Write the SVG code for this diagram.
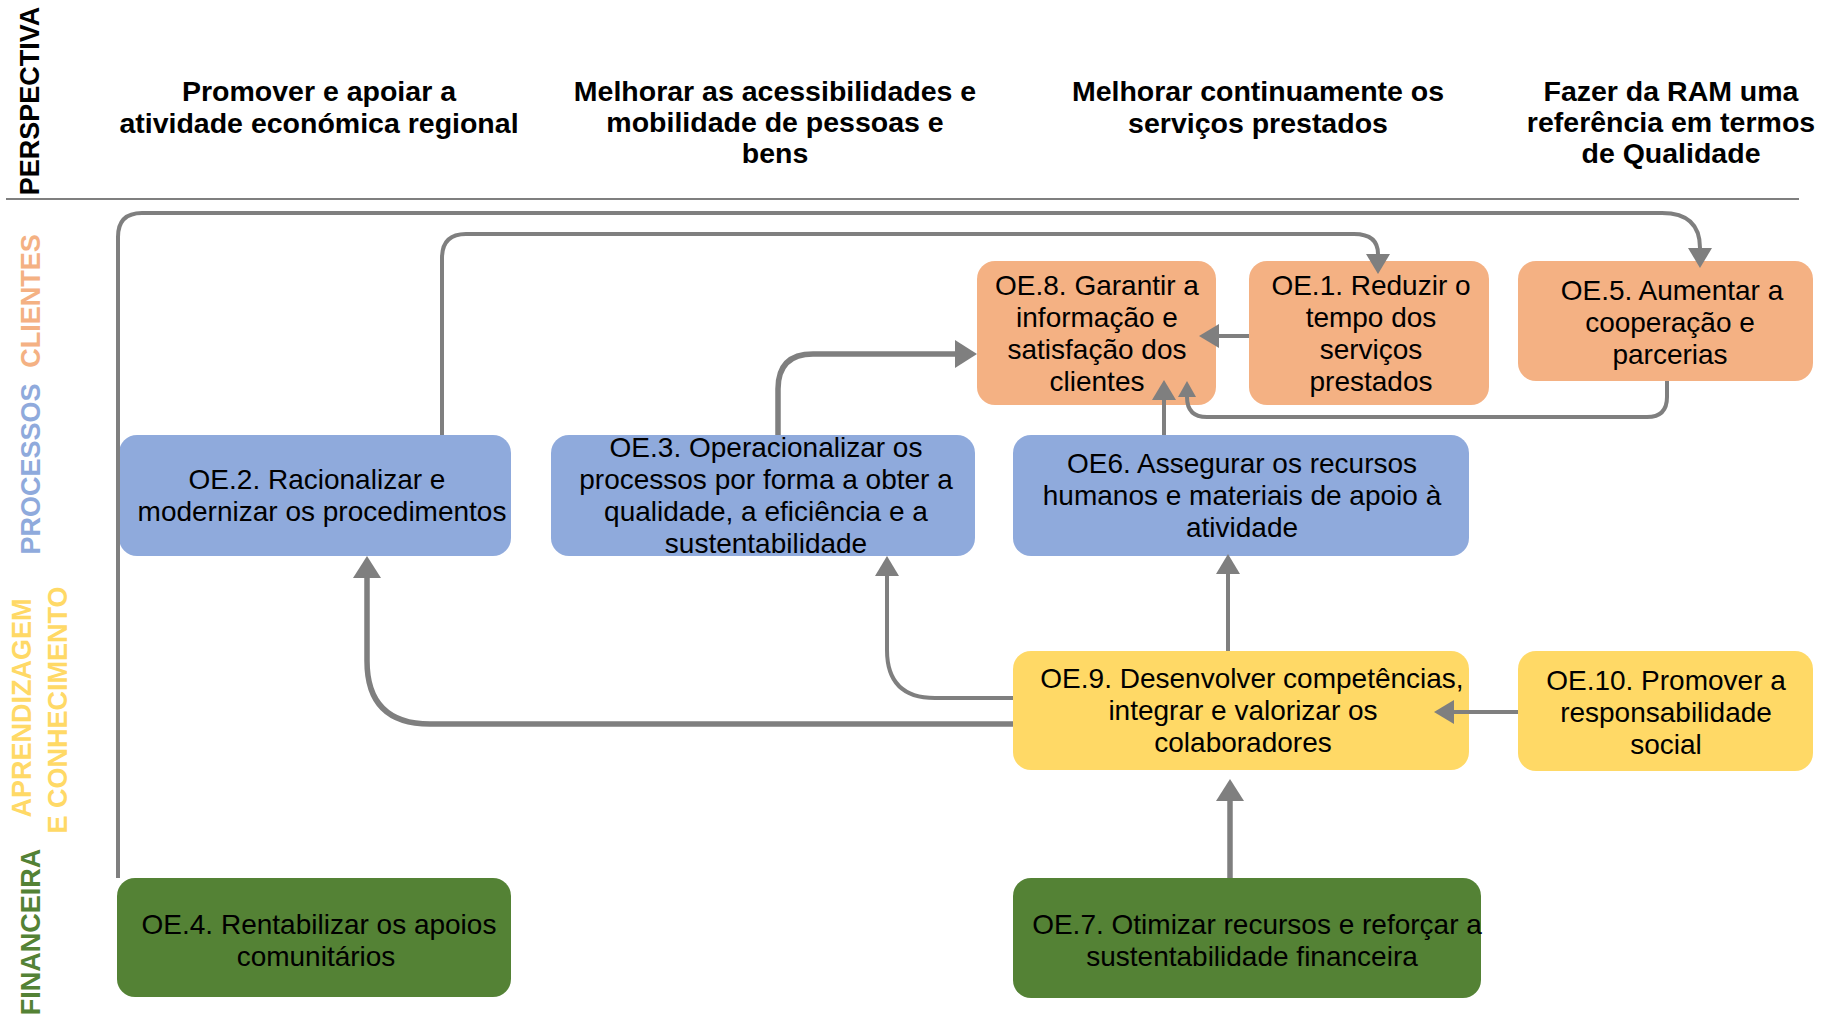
<svg xmlns="http://www.w3.org/2000/svg" width="1834" height="1019" viewBox="0 0 1834 1019">
<style>
.hdr{font-family:"Liberation Sans",Arial,sans-serif;font-weight:bold;font-size:28.5px;fill:#000;text-anchor:middle}
.lbl{font-family:"Liberation Sans",Arial,sans-serif;font-weight:bold;font-size:27px;text-anchor:middle}
.nt{font-family:"Liberation Sans",Arial,sans-serif;font-size:28px;fill:#000;text-anchor:middle}
.cl{fill:#F4B183}
.pr{fill:#8FAADC}
.ap{fill:#FFD966}
.fi{fill:#548235}
.c{fill:none;stroke:#7F7F7F;stroke-width:4}
.ct{fill:none;stroke:#7F7F7F;stroke-width:5.5}
</style>
<defs>
<marker id="ah" viewBox="0 0 20 24" refX="0" refY="12" markerWidth="20" markerHeight="24" orient="auto" markerUnits="userSpaceOnUse"><path d="M0,0 L20,12 L0,24 z" fill="#7F7F7F"/></marker>
<marker id="ahb" viewBox="0 0 22 28" refX="0" refY="14" markerWidth="22" markerHeight="28" orient="auto" markerUnits="userSpaceOnUse"><path d="M0,0 L22,14 L0,28 z" fill="#7F7F7F"/></marker>
<marker id="ahs" viewBox="0 0 16 18" refX="0" refY="9" markerWidth="16" markerHeight="18" orient="auto" markerUnits="userSpaceOnUse"><path d="M0,0 L16,9 L0,18 z" fill="#7F7F7F"/></marker>
</defs>
<rect width="1834" height="1019" fill="#fff"/>

<g id="header">
<line x1="6" y1="199" x2="1799" y2="199" stroke="#7F7F7F" stroke-width="2"/>
<text class="hdr" x="319" y="101">Promover e apoiar a</text>
<text class="hdr" x="319" y="133">atividade económica regional</text>
<text class="hdr" x="775" y="101">Melhorar as acessibilidades e</text>
<text class="hdr" x="775" y="132">mobilidade de pessoas e</text>
<text class="hdr" x="775" y="163">bens</text>
<text class="hdr" x="1258" y="101">Melhorar continuamente os</text>
<text class="hdr" x="1258" y="133">serviços prestados</text>
<text class="hdr" x="1671" y="101">Fazer da RAM uma</text>
<text class="hdr" x="1671" y="132">referência em termos</text>
<text class="hdr" x="1671" y="163">de Qualidade</text>
</g>

<g id="lanes">
<text class="lbl" fill="#000" transform="translate(39,101) rotate(-90)">PERSPECTIVA</text>
<text class="lbl" fill="#F4B183" transform="translate(40,301) rotate(-90)">CLIENTES</text>
<text class="lbl" fill="#8FAADC" transform="translate(40,469) rotate(-90)">PROCESSOS</text>
<text class="lbl" fill="#FFD966" transform="translate(31,708) rotate(-90)">APRENDIZAGEM</text>
<text class="lbl" fill="#FFD966" transform="translate(67,710) rotate(-90)">E CONHECIMENTO</text>
<text class="lbl" fill="#548235" transform="translate(40,932) rotate(-90)">FINANCEIRA</text>
</g>

<g id="oe8">
<rect class="cl" x="977" y="261" width="239" height="144" rx="18"/>
<text class="nt" x="1097" y="295">OE.8. Garantir a</text>
<text class="nt" x="1097" y="327">informação e</text>
<text class="nt" x="1097" y="359">satisfação dos</text>
<text class="nt" x="1097" y="391">clientes</text>
</g>
<g id="oe1">
<rect class="cl" x="1249" y="261" width="240" height="144" rx="18"/>
<text class="nt" x="1371" y="295">OE.1. Reduzir o</text>
<text class="nt" x="1371" y="327">tempo dos</text>
<text class="nt" x="1371" y="359">serviços</text>
<text class="nt" x="1371" y="391">prestados</text>
</g>
<g id="oe5">
<rect class="cl" x="1518" y="261" width="295" height="120" rx="18"/>
<text class="nt" x="1672" y="300">OE.5. Aumentar a</text>
<text class="nt" x="1670" y="332">cooperação e</text>
<text class="nt" x="1670" y="364">parcerias</text>
</g>
<g id="oe2">
<rect class="pr" x="119" y="435" width="392" height="121" rx="18"/>
<text class="nt" x="317" y="489">OE.2. Racionalizar e</text>
<text class="nt" x="322" y="521">modernizar os procedimentos</text>
</g>
<g id="oe3">
<rect class="pr" x="551" y="435" width="424" height="121" rx="18"/>
<text class="nt" x="766" y="457">OE.3. Operacionalizar os</text>
<text class="nt" x="766" y="489">processos por forma a obter a</text>
<text class="nt" x="766" y="521">qualidade, a eficiência e a</text>
<text class="nt" x="766" y="553">sustentabilidade</text>
</g>
<g id="oe6">
<rect class="pr" x="1013" y="435" width="456" height="121" rx="18"/>
<text class="nt" x="1242" y="473">OE6. Assegurar os recursos</text>
<text class="nt" x="1242" y="505">humanos e materiais de apoio à</text>
<text class="nt" x="1242" y="537">atividade</text>
</g>
<g id="oe9">
<rect class="ap" x="1013" y="651" width="456" height="119" rx="18"/>
<text class="nt" x="1252" y="688">OE.9. Desenvolver competências,</text>
<text class="nt" x="1243" y="720">integrar e valorizar os</text>
<text class="nt" x="1243" y="752">colaboradores</text>
</g>
<g id="oe10">
<rect class="ap" x="1518" y="651" width="295" height="120" rx="18"/>
<text class="nt" x="1666" y="690">OE.10. Promover a</text>
<text class="nt" x="1666" y="722">responsabilidade</text>
<text class="nt" x="1666" y="754">social</text>
</g>
<g id="oe4">
<rect class="fi" x="117" y="878" width="394" height="119" rx="18"/>
<text class="nt" x="319" y="934">OE.4. Rentabilizar os apoios</text>
<text class="nt" x="316" y="966">comunitários</text>
</g>
<g id="oe7">
<rect class="fi" x="1013" y="878" width="468" height="120" rx="18"/>
<text class="nt" x="1257" y="934">OE.7. Otimizar recursos e reforçar a</text>
<text class="nt" x="1252" y="966">sustentabilidade financeira</text>
</g>

<g id="connectors">
<path class="c" d="M118,878 V237 Q118,213 142,213 H1662 Q1700,213 1700,248" marker-end="url(#ah)"/>
<path class="c" d="M442,435 V258 Q442,234 466,234 H1354 Q1378,234 1378,254" marker-end="url(#ah)"/>
<path class="ct" d="M778,435 V389 Q778,354 813,354 H955" marker-end="url(#ahb)"/>
<path class="c" d="M1249,336 H1219" marker-end="url(#ah)"/>
<path class="c" d="M1667,381 V397 Q1667,417 1647,417 H1207 Q1187,417 1187,397" marker-end="url(#ahs)"/>
<path class="c" d="M1164,435 V400" marker-end="url(#ah)"/>
<path class="c" d="M1228,651 V574" marker-end="url(#ah)"/>
<path class="c" d="M1013,698 H935 Q887,698 887,650 V576" marker-end="url(#ah)"/>
<path class="ct" d="M1013,724 H430 Q367,724 367,661 V578" marker-end="url(#ahb)"/>
<path class="c" d="M1518,712 H1454" marker-end="url(#ah)"/>
<path class="ct" d="M1230,878 V801" marker-end="url(#ahb)"/>
</g>
</svg>
